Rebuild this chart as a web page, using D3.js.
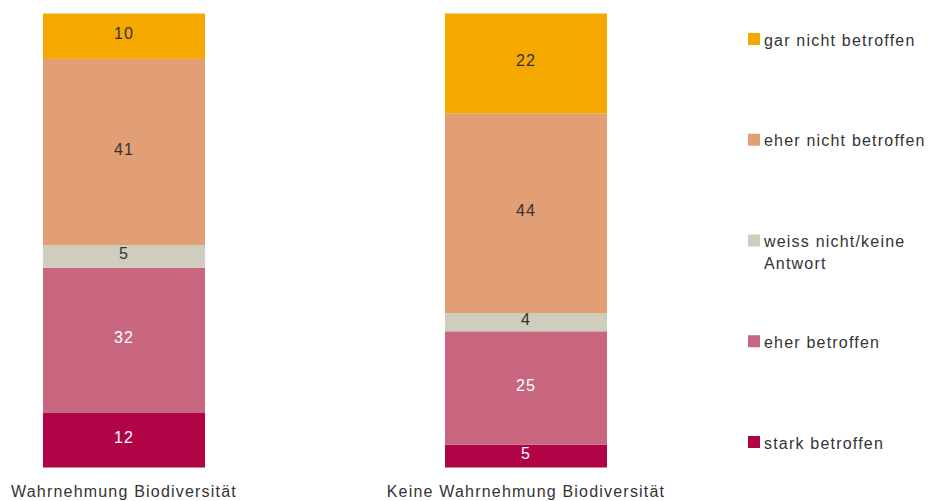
<!doctype html>
<html>
  <head>
    <meta charset="utf-8">
    <script src="https://d3js.org/d3.v7.min.js"></script>
    <style>
      body { margin: 0; background: #fff; }
      text { font-family: "Liberation Sans", Arial, sans-serif; letter-spacing: 1.2px; }
    </style>
  </head>
  <body>
    <div id="graphic"></div>
    <script>

// Data
  var categories = ["Wahrnehmung Biodiversität", "Keine Wahrnehmung Biodiversität"];
  var seriesNames = ["stark betroffen", "eher betroffen", "weiss nicht/keine Antwort", "eher nicht betroffen", "gar nicht betroffen"];
  var starkBetroffen = [12, 5];
  var eherBetroffen = [32, 25];
  var weissNicht = [5, 4];
  var eherNichtBetroffen = [41, 44];
  var garNichtBetroffen = [10, 22];
  var colors = ["#B00446", "#C9667F", "#CFCDBD", "#E29E74", "#F5A800"];
  var labelColors = ["#fff", "#fff", "#333", "#333", "#333"];

  var seriesValues = [starkBetroffen, eherBetroffen, weissNicht, eherNichtBetroffen, garNichtBetroffen];

  var table = categories.map(function(c, i) {
    var row = {cat: c};
    seriesNames.forEach(function(s, j) { row[s] = seriesValues[j][i]; });
    return row;
  });

  var width = 929, height = 501;

  var svg = d3.select("#graphic").append("svg")
    .attr("width", width)
    .attr("height", height);

  var xScale = d3.scaleBand()
    .domain(categories)
    .range([43, 607])
    .paddingInner(0.597)
    .paddingOuter(0);

  var yScale = d3.scaleLinear().domain([0, 100]).range([467.5, 13.5]);

  var stacked = d3.stack().keys(seriesNames)(table);

// bars
  var layers = svg.selectAll("g.layer")
    .data(stacked)
    .enter()
    .append("g")
    .attr("class", "layer");

  layers.selectAll("rect")
    .data(d => d.map(p => ({p: p, key: d.key, idx: d.index})))
    .enter()
    .append("rect")
    .attr("x", d => xScale(d.p.data.cat))
    .attr("width", xScale.bandwidth())
    .attr("y", d => yScale(d.p[1]))
    .attr("height", d => yScale(d.p[0]) - yScale(d.p[1]))
    .style("fill", d => colors[d.idx]);

  layers.selectAll("text")
    .data(d => d.map(p => ({p: p, key: d.key, idx: d.index})))
    .enter()
    .append("text")
    .attr("x", d => xScale(d.p.data.cat) + xScale.bandwidth() / 2)
    .attr("y", d => (yScale(d.p[0]) + yScale(d.p[1])) / 2 - 3)
    .attr("dy", "0.35em")
    .attr("text-anchor", "middle")
    .style("font-size", "16px")
    .style("fill", d => labelColors[d.idx])
    .text(d => d.p[1] - d.p[0]);

// category labels
  svg.append("g")
    .selectAll("text")
    .data(categories)
    .enter()
    .append("text")
    .attr("x", d => xScale(d) + xScale.bandwidth() / 2)
    .attr("y", 497)
    .attr("text-anchor", "middle")
    .style("font-size", "16px")
    .style("fill", "#333")
    .text(d => d);

// legend
  var legendOrder = seriesNames.slice().reverse();
  var legendY = d3.scalePoint().domain(legendOrder).range([40, 443]);
  var legendLines = {"weiss nicht/keine Antwort": ["weiss nicht/keine", "Antwort"]};

  var legend = svg.append("g")
    .selectAll("g")
    .data(legendOrder)
    .enter()
    .append("g")
    .attr("transform", d => "translate(748," + legendY(d) + ")");

  legend.append("rect")
    .attr("x", 0)
    .attr("y", -7)
    .attr("width", 12)
    .attr("height", 12)
    .style("fill", d => colors[seriesNames.indexOf(d)]);

  legend.append("text")
    .attr("x", 16)
    .attr("y", 0)
    .style("font-size", "16px")
    .style("fill", "#333")
    .selectAll("tspan")
    .data(d => legendLines[d] || [d])
    .enter()
    .append("tspan")
    .attr("x", 16)
    .attr("dy", (d, i) => i === 0 ? "0.35em" : "1.35em")
    .text(d => d);

    </script>
  </body>
</html>
